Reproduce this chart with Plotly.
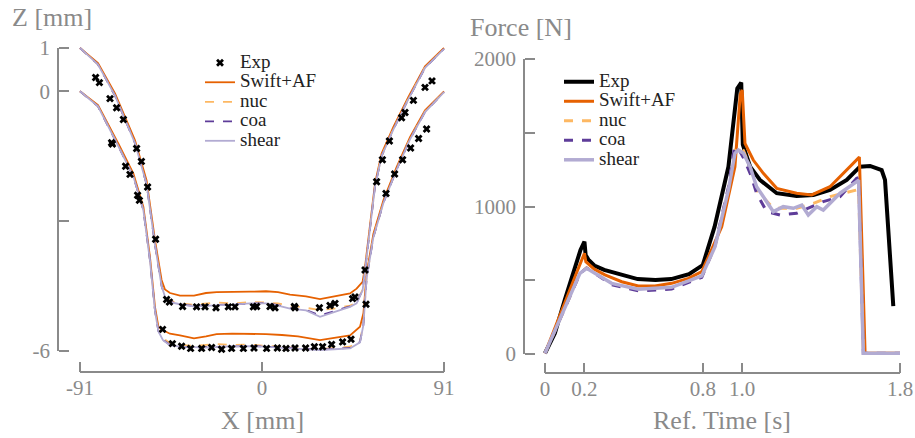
import plotly.graph_objects as go

# ---------------- Left panel: Z profiles (upper / lower surface) ----------------
x_upper = [-91, -82, -73.5, -63.5, -57.7, -53.5, -50.2, -48.5, -46, -41, -34, -28, -22.7, -15, -6,
           2, 8, 14, 22, 29, 36, 44, 47.3, 50.3, 51.5, 54, 56.5, 59.8, 65.7, 73.2, 81.5, 91]
z_upper_swift = [1.0, 0.65, -0.05, -1.13, -2.06, -3.44, -4.36, -4.58, -4.66, -4.72, -4.72, -4.66, -4.64,
                 -4.64, -4.63, -4.62, -4.64, -4.70, -4.74, -4.80, -4.74, -4.67, -4.56, -4.40, -4.06,
                 -3.06, -2.13, -1.44, -0.82, -0.13, 0.58, 1.0]
z_upper_nuc = [1.0, 0.62, -0.10, -1.19, -2.14, -3.53, -4.48, -4.72, -4.84, -4.90, -4.93, -4.91, -4.88,
               -4.90, -4.87, -4.88, -4.90, -4.95, -5.00, -5.05, -5.02, -4.95, -4.88, -4.58, -4.14,
               -3.11, -2.19, -1.49, -0.87, -0.17, 0.55, 0.98]
z_upper_coa = [1.0, 0.62, -0.10, -1.20, -2.15, -3.55, -4.50, -4.74, -4.86, -4.92, -4.96, -4.95, -4.93,
               -4.92, -4.90, -4.89, -4.94, -5.01, -5.05, -5.18, -5.08, -4.97, -4.89, -4.59, -4.15,
               -3.12, -2.20, -1.50, -0.88, -0.18, 0.54, 0.98]
z_upper_shear = [1.0, 0.62, -0.10, -1.20, -2.15, -3.55, -4.50, -4.75, -4.87, -4.92, -4.97, -4.96, -4.94,
                 -4.93, -4.90, -4.90, -4.95, -5.02, -5.06, -5.21, -5.10, -4.98, -4.90, -4.60, -4.15,
                 -3.12, -2.20, -1.50, -0.88, -0.18, 0.54, 0.98]

x_lower = [-91, -82, -71.8, -64.3, -59.3, -56, -53.5, -51.8, -49.5, -46, -41, -34, -28, -22.7, -15, -6,
           2, 10, 18, 29, 36, 44, 49, 50.7, 52.3, 55.7, 60.7, 67.3, 74, 81.5, 91]
z_lower_swift = [0.0, -0.32, -1.21, -1.90, -2.67, -3.83, -4.98, -5.44, -5.52, -5.60, -5.64, -5.71, -5.66,
                 -5.61, -5.60, -5.60, -5.61, -5.63, -5.66, -5.75, -5.70, -5.64, -5.44, -5.13, -4.21,
                 -3.29, -2.52, -1.75, -1.06, -0.44, 0.0]
z_lower_nuc = [0.0, -0.35, -1.26, -1.96, -2.74, -3.90, -5.06, -5.52, -5.70, -5.82, -5.86, -5.88, -5.86,
               -5.84, -5.86, -5.85, -5.88, -5.90, -5.94, -5.96, -5.93, -5.90, -5.76, -5.38, -4.31,
               -3.36, -2.57, -1.80, -1.10, -0.47, -0.02]
z_lower_coa = [0.0, -0.35, -1.27, -1.97, -2.75, -3.91, -5.07, -5.54, -5.74, -5.86, -5.90, -5.92, -5.91,
               -5.90, -5.89, -5.88, -5.90, -5.92, -5.95, -5.97, -5.95, -5.93, -5.79, -5.39, -4.32,
               -3.37, -2.58, -1.81, -1.11, -0.48, -0.02]
z_lower_shear = [0.0, -0.35, -1.27, -1.97, -2.75, -3.92, -5.08, -5.55, -5.75, -5.87, -5.90, -5.92, -5.92,
                 -5.91, -5.89, -5.89, -5.90, -5.93, -5.95, -5.98, -5.96, -5.94, -5.80, -5.40, -4.32,
                 -3.37, -2.58, -1.81, -1.11, -0.48, -0.02]

exp_x = [-83.2, -81.3, -76.0, -72.7, -69.3, -75.2, -74.8, -62.7, -60.3, -68.2, -66.0, -57.2, -62.2, -61.3,
         -53.2,
         -47.7, -46.3, -39.7, -32.7, -28.5, -23.0, -16.8, -13.5, -4.3, -2.7, 4.0, 6.5, 16.2, 16.5, 28.7,
         34.0, 36.5, 45.3, 46.5, 51.5, 52.0,
         -49.7, -44.8, -40.2, -35.7, -30.2, -25.2, -20.2, -15.2, -9.3, -4.0, 2.3, 7.7, 12.0, 16.5, 21.8,
         26.2, 30.3, 34.8, 40.3, 44.5,
         85.0, 81.5, 75.7, 71.5, 69.8, 63.7, 60.2, 57.3, 82.3, 78.3, 74.3, 70.3, 66.3, 62.0]
exp_z = [0.32, 0.20, -0.17, -0.38, -0.65, -1.19, -1.22, -1.32, -1.62, -1.73, -1.92, -2.21, -2.40, -2.52,
         -3.42,
         -4.81, -4.87, -4.97, -4.98, -4.98, -5.00, -4.98, -4.98, -4.98, -4.97, -4.97, -5.00, -4.97, -5.00,
         -5.00, -4.95, -4.90, -4.79, -4.75, -4.13, -4.92,
         -5.50, -5.83, -5.89, -5.94, -5.94, -5.92, -5.96, -5.94, -5.94, -5.93, -5.94, -5.93, -5.94, -5.93,
         -5.93, -5.90, -5.90, -5.85, -5.79, -5.73,
         0.24, 0.09, -0.21, -0.49, -0.61, -1.15, -1.58, -2.09, -0.87, -1.09, -1.31, -1.58, -1.91, -2.36]

x_ticks = [-91, 0, 91]
z_ticks = [-6, -3, 0, 1]
z_ticktext = ["-6", "", "0", "1"]

# ---------------- Right panel: force vs reference time ----------------
t_exp = [0, 0.05, 0.10, 0.16, 0.18, 0.20, 0.206, 0.22, 0.25, 0.30, 0.39, 0.47, 0.56, 0.64, 0.73, 0.80,
         0.86, 0.93, 0.975, 0.995, 1.003, 1.04, 1.09, 1.175, 1.276, 1.361, 1.445, 1.53, 1.597, 1.648,
         1.707, 1.724, 1.766]
f_exp = [5, 140, 366, 626, 705, 762, 671, 640, 600, 570, 536, 508, 502, 508, 542, 603,
         863, 1270, 1800, 1840, 1420, 1270, 1180, 1090, 1071, 1078, 1112, 1180, 1270, 1275,
         1247, 1180, 325]

t_swift = [0, 0.084, 0.152, 0.2, 0.207, 0.25, 0.304, 0.389, 0.473, 0.558, 0.642, 0.727, 0.795, 0.896,
           0.963, 0.99, 1.0, 1.014, 1.056, 1.107, 1.175, 1.276, 1.352, 1.445, 1.513, 1.58, 1.594, 1.623,
           1.80]
f_swift = [5, 298, 524, 683, 626, 575, 536, 490, 461, 461, 479, 513, 558, 863,
           1270, 1760, 1790, 1428, 1315, 1225, 1123, 1090, 1078, 1134, 1225, 1320, 1335, 5,
           5]

t_nuc = [0, 0.101, 0.177, 0.211, 0.27, 0.338, 0.473, 0.642, 0.795, 0.862, 0.93, 0.963, 0.98, 1.006,
         1.04, 1.073, 1.158, 1.276, 1.361, 1.445, 1.58, 1.59, 1.614, 1.80]
f_nuc = [5, 318, 545, 585, 535, 476, 434, 448, 526, 730, 1120, 1380, 1405, 1380,
         1265, 1110, 988, 988, 1021, 1067, 1112, 1120, 5, 5]

t_coa = [0, 0.101, 0.177, 0.211, 0.27, 0.338, 0.473, 0.642, 0.795, 0.862, 0.93, 0.96, 0.975, 1.006,
         1.04, 1.073, 1.124, 1.192, 1.276, 1.335, 1.411, 1.496, 1.58, 1.59, 1.614, 1.80]
f_coa = [5, 318, 545, 583, 532, 470, 428, 440, 520, 735, 1130, 1395, 1405, 1330,
         1225, 1090, 965, 942, 954, 988, 1033, 1067, 1191, 1195, 5, 5]

t_shear = [0, 0.101, 0.177, 0.211, 0.27, 0.338, 0.473, 0.642, 0.795, 0.862, 0.93, 0.963, 0.98, 1.006,
           1.04, 1.073, 1.158, 1.208, 1.259, 1.302, 1.335, 1.378, 1.411, 1.496, 1.58, 1.59, 1.614, 1.80]
f_shear = [5, 321, 547, 581, 536, 479, 439, 452, 529, 727, 1112, 1361, 1383, 1361,
           1270, 1134, 965, 999, 988, 1010, 942, 999, 976, 1090, 1168, 1180, 5, 5]

t_ticks = [0, 0.2, 0.8, 1.0, 1.8]
t_ticktext = ["0", "0.2", "0.8", "1.0", "1.8"]
f_ticks = [0, 500, 1000, 1500, 2000]
f_ticktext = ["0", "", "1000", "", "2000"]

# ---------------- styling ----------------
C_EXP, C_SWIFT, C_NUC, C_COA, C_SHEAR = "black", "#e66101", "#fdb863", "#5e3c99", "#b2abd2"
GREY = "#8a8a8a"
SERIF = "Liberation Serif"
W, H = 915, 438
LEG_TXT = 19      # legend label size
LEG_ROW = 12.7    # legend font size that sets the row pitch


def px(v):
    return v / W


def py(v):
    return 1 - v / H


def joined(a, b):
    return list(a) + [None] + list(b)


def legname(s):
    return f"<span style='font-size:{LEG_TXT}px'>{s}</span>"


fig = go.Figure()

left_models = [
    ("Swift+AF", z_upper_swift, z_lower_swift, C_SWIFT, "solid", 2),
    ("nuc", z_upper_nuc, z_lower_nuc, C_NUC, "dash", 3),
    ("coa", z_upper_coa, z_lower_coa, C_COA, "dash", 4),
    ("shear", z_upper_shear, z_lower_shear, C_SHEAR, "solid", 5),
]
for name, zu, zl, col, dash, rank in left_models:
    fig.add_trace(go.Scatter(
        x=joined(x_upper, x_lower), y=joined(zu, zl), mode="lines", name=legname(name),
        line=dict(color=col, width=1.8, dash=dash), connectgaps=False,
        xaxis="x", yaxis="y", legend="legend", legendrank=rank))
fig.add_trace(go.Scatter(
    x=exp_x, y=exp_z, mode="markers", name=legname("Exp"),
    marker=dict(symbol="x", size=7, color=C_EXP), cliponaxis=False,
    xaxis="x", yaxis="y", legend="legend", legendrank=1))

right_models = [
    ("Exp", t_exp, f_exp, C_EXP, "solid", 4, 1),
    ("Swift+AF", t_swift, f_swift, C_SWIFT, "solid", 3, 2),
    ("nuc", t_nuc, f_nuc, C_NUC, "dash", 3, 3),
    ("coa", t_coa, f_coa, C_COA, "dash", 3, 4),
    ("shear", t_shear, f_shear, C_SHEAR, "solid", 3.5, 5),
]
for name, t, f, col, dash, w, rank in right_models:
    fig.add_trace(go.Scatter(
        x=t, y=f, mode="lines", name=legname(name), line=dict(color=col, width=w, dash=dash),
        xaxis="x2", yaxis="y2", legend="legend2", legendrank=rank))

tickfont = dict(family=SERIF, size=21, color=GREY)
common = dict(showgrid=False, zeroline=False, showline=False, ticks="inside", ticklen=10,
              tickwidth=2, tickcolor=GREY, tickfont=tickfont, anchor="free", fixedrange=True,
              automargin=False)

# pixel geometry of the axes
L_X0, L_X1, L_XA = 76, 448, 372      # left panel x-domain pixels, x-axis line y
L_YT, L_YB, L_YA = 43.67, 355.33, 58  # left panel y-domain pixels, y-axis line x
R_X0, R_X1, R_XA = 539.08, 905.92, 373
R_YT, R_YB, R_YA = 53.1, 359.9, 524

fig.update_layout(
    width=W, height=H, margin=dict(l=0, r=0, t=0, b=0, pad=0, autoexpand=False),
    paper_bgcolor="white", plot_bgcolor="white",
    font=dict(family=SERIF, color="#222"),
    xaxis=dict(common, domain=[px(L_X0), px(L_X1)], range=[-93, 93], position=py(L_XA),
               tickvals=x_ticks, ticktext=[str(v) for v in x_ticks], ticklabelstandoff=1),
    yaxis=dict(common, domain=[py(L_YB), py(L_YT)], range=[-6.1, 1.1], position=px(L_YA),
               tickvals=z_ticks, ticktext=z_ticktext, ticklabelstandoff=8),
    xaxis2=dict(common, domain=[px(R_X0), px(R_X1)], range=[-0.03, 1.83], position=py(R_XA),
                tickvals=t_ticks, ticktext=t_ticktext, ticklabelstandoff=1),
    yaxis2=dict(common, domain=[py(R_YB), py(R_YT)], range=[-40, 2040], position=px(R_YA),
                tickvals=f_ticks, ticktext=f_ticktext, ticklabelstandoff=8),
    legend=dict(x=px(200), y=py(48), xanchor="left", yanchor="top", bgcolor="rgba(0,0,0,0)",
                font=dict(family=SERIF, size=LEG_ROW, color="#222"), tracegroupgap=0),
    legend2=dict(x=px(559), y=py(67), xanchor="left", yanchor="top", bgcolor="rgba(0,0,0,0)",
                 font=dict(family=SERIF, size=LEG_ROW, color="#222"), tracegroupgap=0),
    showlegend=True,
)

# offset axis lines spanning the tick range
axis_line = dict(color=GREY, width=2)
fig.add_shape(type="line", xref="paper", yref="y", x0=px(L_YA), x1=px(L_YA), y0=-6, y1=1, line=axis_line)
fig.add_shape(type="line", xref="x", yref="paper", x0=-91, x1=91, y0=py(L_XA), y1=py(L_XA), line=axis_line)
fig.add_shape(type="line", xref="paper", yref="y2", x0=px(R_YA), x1=px(R_YA), y0=0, y1=2000, line=axis_line)
fig.add_shape(type="line", xref="x2", yref="paper", x0=0, x1=1.8, y0=py(R_XA), y1=py(R_XA), line=axis_line)

title_font = dict(family=SERIF, size=26, color=GREY)
fig.add_annotation(text="Z [mm]", xref="paper", yref="paper", x=px(10), y=py(18),
                   xanchor="left", yanchor="middle", showarrow=False, font=title_font)
fig.add_annotation(text="X [mm]", xref="paper", yref="paper", x=px(262), y=py(420),
                   xanchor="center", yanchor="middle", showarrow=False, font=title_font)
fig.add_annotation(text="Force [N]", xref="paper", yref="paper", x=px(468), y=py(27),
                   xanchor="left", yanchor="middle", showarrow=False, font=title_font)
fig.add_annotation(text="Ref. Time [s]", xref="paper", yref="paper", x=px(722), y=py(420),
                   xanchor="center", yanchor="middle", showarrow=False, font=title_font)

fig.write_html("out.html")
